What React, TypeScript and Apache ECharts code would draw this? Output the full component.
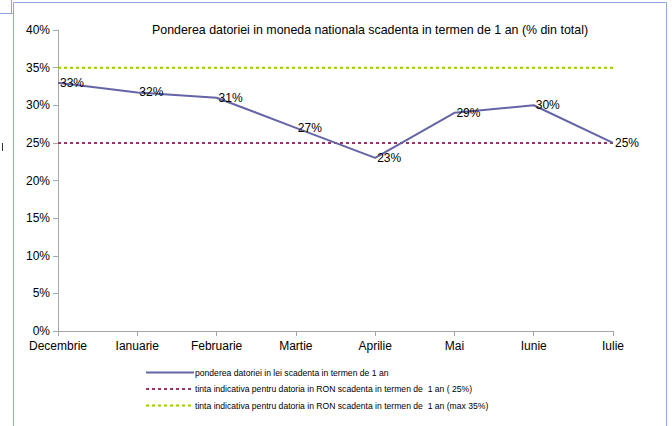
import React, { useEffect, useRef } from "react";
import * as echarts from "echarts";

const categories = ["Decembrie", "Ianuarie", "Februarie", "Martie", "Aprilie", "Mai", "Iunie", "Iulie"];
const ponderea = [33.0, 31.7, 31.0, 27.0, 23.0, 29.0, 30.0, 25.0];
const tinta25 = [25, 25, 25, 25, 25, 25, 25, 25];
const tinta35 = [35, 35, 35, 35, 35, 35, 35, 35];
const seriesNames = [
  "ponderea datoriei in lei scadenta in termen de 1 an",
  "tinta indicativa pentru datoria in RON scadenta in termen de  1 an ( 25%)",
  "tinta indicativa pentru datoria in RON scadenta in termen de  1 an (max 35%)",
];
const title = "Ponderea datoriei in moneda nationala scadenta in termen de 1 an (% din total)";

const FONT = "'Liberation Sans', Arial, sans-serif";

export default function App() {
  const ref = useRef<HTMLDivElement>(null);
  useEffect(() => {
    const chart = echarts.init(ref.current!, undefined, { renderer: "svg" });
    chart.setOption({
      animation: false,
      backgroundColor: "#ffffff",
      textStyle: { fontFamily: FONT },
      title: {
        text: title,
        left: 365,
        textAlign: "center",
        top: 19,
        textStyle: { fontSize: 12.4, fontWeight: "normal", color: "#000", fontFamily: FONT },
      },
      grid: { left: 58, right: 59, top: 30, bottom: 95, containLabel: false },
      legend: {
        orient: "vertical",
        left: 140,
        top: 363,
        itemWidth: 48,
        itemHeight: 6,
        itemGap: 7.5,
        data: seriesNames,
        itemStyle: { opacity: 0 },
        textStyle: { fontSize: 8.6, color: "#000", fontFamily: FONT, padding: [0, 0, 0, -4] },
      },
      xAxis: {
        type: "category",
        data: categories,
        boundaryGap: false,
        axisLine: { lineStyle: { color: "#a6a6a6", width: 1 } },
        axisTick: { show: true, length: 5, lineStyle: { color: "#a6a6a6" } },
        axisLabel: { color: "#000", fontSize: 12, margin: 9, fontFamily: FONT },
        splitLine: { show: false },
      },
      yAxis: {
        type: "value",
        min: 0,
        max: 40,
        interval: 5,
        axisLine: { show: true, lineStyle: { color: "#a6a6a6", width: 1 } },
        axisTick: { show: true, length: 5, lineStyle: { color: "#a6a6a6" } },
        axisLabel: { formatter: "{value}%", color: "#000", fontSize: 12, margin: 8, fontFamily: FONT },
        splitLine: { show: false },
      },
      series: [
        {
          name: seriesNames[0],
          type: "line",
          data: ponderea,
          symbol: "circle",
          symbolSize: 0.01,
          showSymbol: true,
          lineStyle: { color: "#6464a6", width: 2 },
          itemStyle: { color: "#6464a6" },
          label: {
            show: true,
            position: "right",
            distance: 2,
            color: "#000",
            fontSize: 12,
            fontFamily: FONT,
            formatter: (p: any) => Math.round(p.value) + "%",
          },
          labelLayout: { hideOverlap: false },
          z: 3,
        },
        {
          name: seriesNames[1],
          type: "line",
          data: tinta25,
          symbol: "none",
          lineStyle: { color: "#993366", width: 2, type: [3, 3] },
          itemStyle: { color: "#993366" },
          z: 2,
        },
        {
          name: seriesNames[2],
          type: "line",
          data: tinta35,
          symbol: "none",
          lineStyle: { color: "#99cc00", width: 2, type: [3, 3] },
          itemStyle: { color: "#99cc00" },
          z: 2,
        },
      ],
      graphic: [
        {
          type: "rect",
          shape: { x: 13.5, y: 2.5, width: 653, height: 440 },
          style: { fill: "none", stroke: "#8eaadb", lineWidth: 1 },
          silent: true,
        },
        {
          type: "line",
          shape: { x1: 0, y1: 13.5, x2: 13, y2: 13.5 },
          style: { stroke: "#8eaadb", lineWidth: 1 },
        },
        {
          type: "line",
          shape: { x1: 11.5, y1: 0, x2: 11.5, y2: 13 },
          style: { stroke: "#8eaadb", lineWidth: 1 },
        },
        {
          type: "line",
          shape: { x1: 2.5, y1: 143, x2: 2.5, y2: 151 },
          style: { stroke: "#333", lineWidth: 1 },
        },
      ],
    });
    return () => chart.dispose();
  }, []);
  return (
    <div
      ref={ref}
      style={{ position: "fixed", left: 0, top: 0, width: 672, height: 426 }}
    />
  );
}
